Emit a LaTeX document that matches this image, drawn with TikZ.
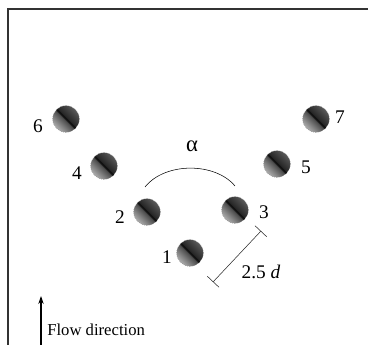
\documentclass[tikz,border=0pt]{standalone}
\usepackage{fontspec}
\setmainfont{Liberation Serif}
\newfontfamily\labelfont{Liberation Serif}
\usetikzlibrary{positioning, arrows.meta}

\pgfdeclareverticalshading{cylshade}{100bp}{color(0bp)=(black!10); color(27bp)=(black!35);
    color(47bp)=(black!70); color(50bp)=(black); color(53bp)=(black!85); color(75bp)=(black!65); color(100bp)=(black!65)}

\begin{document}
\begin{tikzpicture}[x=0.75pt, y=-0.75pt,
    cyl/.style={circle, minimum size=20pt, inner sep=0pt, draw=gray, densely dotted, thin,
                shading=cylshade, shading angle=-45},
    num/.style={font=\labelfont\fontsize{14.5}{16}\selectfont, inner sep=0pt}]

    \useasboundingbox (0,0) rectangle (368,345);

    % Frame
    \draw[line width=1pt, black!80] (8,345) -- (8,9) -- (368,9);

    % Cylinders
    \node[cyl] (c1) at (190,253) {};
    \node[cyl] (c2) at (147,212) {};
    \node[cyl] (c3) at (235,210) {};
    \node[cyl] (c4) at (104,166) {};
    \node[cyl] (c5) at (277,164) {};
    \node[cyl] (c6) at (66,119) {};
    \node[cyl] (c7) at (316,119) {};

    % Cylinder numbers
    \node[num] (n1) at (167,257) {1};
    \node[num] (n2) at (120,217) {2};
    \node[num] (n3) at (264,212) {3};
    \node[num] (n4) at (77,173) {4};
    \node[num] (n5) at (306,167) {5};
    \node[num] (n6) at (38,126) {6};
    \node[num] (n7) at (340,117) {7};

    % Angle between the rows
    \coordinate (arcL) at (145,187);
    \coordinate (arcR) at (235,186);
    \draw[thin] (arcL) .. controls (165,162) and (215,162) .. (arcR);
    \node[num, font=\labelfont\fontsize{17}{19}\selectfont] (alpha) at (192,146) {α};

    % Spacing 2.5 d
    \coordinate (dimA) at (213,282);
    \coordinate (dimB) at (261,231);
    \draw[thin, black!85, {Bar[width=12pt]}-{Bar[width=12pt]}] (dimA) -- (dimB);
    \node[num] (dimlabel) at (261,272) {2.5 \textit{d}};

    % Flow direction
    \coordinate (flowtail) at (41,345);
    \coordinate (flowhead) at (41,296);
    \draw[thick, -{Stealth[length=6pt, width=4pt]}] (flowtail) -- (flowhead);
    \node[anchor=west, inner sep=0pt, font=\labelfont\fontsize{12.5}{14}\selectfont] (flowlabel) at (47,330) {Flow direction};

\end{tikzpicture}
\end{document}
